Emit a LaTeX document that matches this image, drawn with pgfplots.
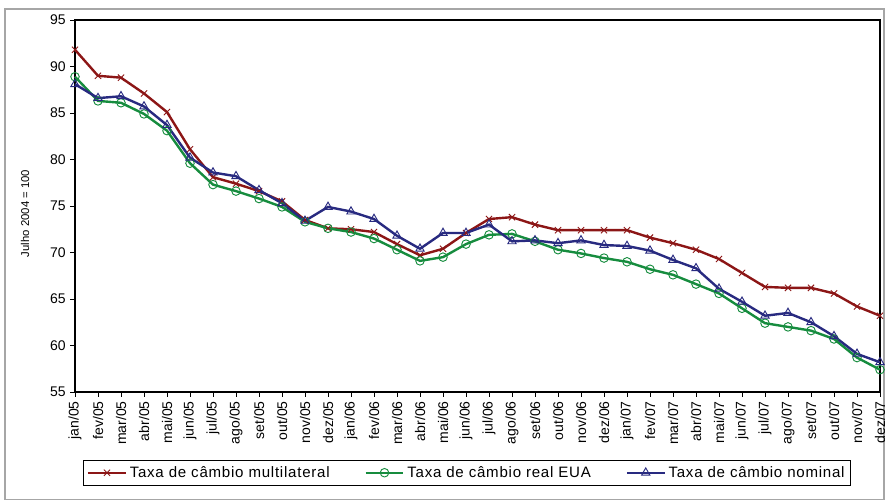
\documentclass[border=0pt]{standalone}
\usepackage{pgfplots}
\pgfplotsset{compat=1.18}
\usepackage{fontspec}
\setmainfont{Liberation Sans}
\newfontfamily\spacedfont[LetterSpace=5]{Liberation Sans}
\definecolor{cred}{RGB}{140,22,22}
\definecolor{cgreen}{RGB}{22,140,62}
\definecolor{cblue}{RGB}{40,42,128}
\begin{document}
\begin{tikzpicture}
\useasboundingbox (0,0) rectangle (663.75pt,375pt);
\draw[gray!70,line width=0.8pt] (3.75pt,0.4pt) rectangle (663pt,368.25pt);
\begin{axis}[
  at={(56.25pt,81pt)}, anchor=south west,
  width=603.75pt, height=279pt, scale only axis,
  xmin=0, xmax=35, ymin=55, ymax=95,
  ytick={55,60,...,95},
  xtick={0,...,35},
  xticklabels={jan/05,fev/05,mar/05,abr/05,mai/05,jun/05,jul/05,ago/05,set/05,out/05,nov/05,dez/05,
               jan/06,fev/06,mar/06,abr/06,mai/06,jun/06,jul/06,ago/06,set/06,out/06,nov/06,dez/06,
               jan/07,fev/07,mar/07,abr/07,mai/07,jun/07,jul/07,ago/07,set/07,out/07,nov/07,dez/07},
  xticklabel style={rotate=90, anchor=east, font=\fontsize{10.5}{12}\selectfont},
  yticklabel style={font=\fontsize{10.5}{12}\selectfont},
  /pgf/number format/assume math mode=true,
  tick align=outside, xtick pos=bottom, ytick pos=left,
  major tick length=3.5pt,
  tick style={black, line width=0.5pt},
  axis line style={line width=0.8pt},
  every axis y label/.style={at={(axis description cs:-0.062,0.48)}, rotate=90, anchor=center},
  ylabel={Julho 2004 = 100},
  ylabel style={font=\fontsize{8.5}{10}\selectfont},
  clip=false,
  legend style={at={(0.487,-0.217)}, anchor=center, legend columns=3, draw=black, line width=0.6pt,
     font=\spacedfont\fontsize{11.3}{13}\selectfont, inner sep=2.5pt,
     /tikz/every even column/.append style={column sep=24pt}},
  legend image code/.code={\draw[mark repeat=2,mark phase=2,#1] plot coordinates {(0cm,0cm) (0.5cm,0cm) (1cm,0cm)};},
]
\addplot[cred, line width=1.8pt, mark=x, mark size=3.3pt, mark options={line width=0.7pt}] coordinates {
(0,91.8)(1,89.0)(2,88.8)(3,87.1)(4,85.1)(5,81.1)(6,78.1)(7,77.4)(8,76.6)(9,75.5)(10,73.5)(11,72.6)
(12,72.5)(13,72.2)(14,70.9)(15,69.7)(16,70.4)(17,72.1)(18,73.6)(19,73.8)(20,73.0)(21,72.4)(22,72.4)(23,72.4)
(24,72.4)(25,71.6)(26,71.0)(27,70.3)(28,69.3)(29,67.8)(30,66.3)(31,66.2)(32,66.2)(33,65.6)(34,64.2)(35,63.2)};
\addlegendentry{Taxa de câmbio multilateral}
\addplot[cgreen, line width=1.8pt, mark=o, mark size=3.2pt, mark options={line width=0.7pt}] coordinates {
(0,88.9)(1,86.3)(2,86.1)(3,84.9)(4,83.1)(5,79.6)(6,77.3)(7,76.6)(8,75.8)(9,74.9)(10,73.3)(11,72.6)
(12,72.2)(13,71.5)(14,70.3)(15,69.1)(16,69.5)(17,70.9)(18,71.9)(19,72.0)(20,71.2)(21,70.3)(22,69.9)(23,69.4)
(24,69.0)(25,68.2)(26,67.6)(27,66.6)(28,65.6)(29,64.0)(30,62.4)(31,62.0)(32,61.6)(33,60.7)(34,58.7)(35,57.4)};
\addlegendentry{Taxa de câmbio real EUA}
\addplot[cblue, line width=1.8pt, mark=triangle, mark size=3.6pt, mark options={line width=0.7pt}] coordinates {
(0,88.1)(1,86.6)(2,86.8)(3,85.7)(4,83.7)(5,80.2)(6,78.6)(7,78.2)(8,76.7)(9,75.3)(10,73.4)(11,74.9)
(12,74.4)(13,73.6)(14,71.8)(15,70.4)(16,72.1)(17,72.1)(18,73.0)(19,71.2)(20,71.3)(21,71.0)(22,71.3)(23,70.8)
(24,70.7)(25,70.2)(26,69.2)(27,68.3)(28,66.1)(29,64.7)(30,63.2)(31,63.5)(32,62.5)(33,61.0)(34,59.1)(35,58.2)};
\addlegendentry{Taxa de câmbio nominal}
\end{axis}
\end{tikzpicture}
\end{document}
